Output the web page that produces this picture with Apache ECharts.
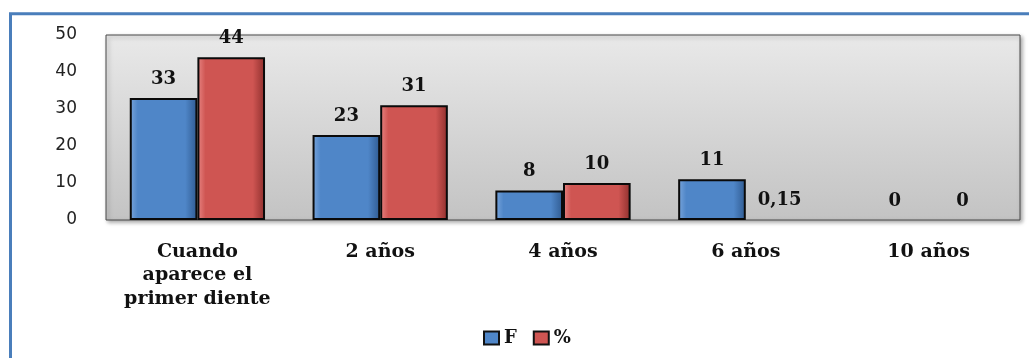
<!DOCTYPE html>
<html>
<head>
<meta charset="utf-8">
<script src="https://cdn.jsdelivr.net/npm/echarts@6/dist/echarts.min.js"></script>
<style>
    html, body { margin: 0; padding: 0; background: #fff; }
    #chart { width: 1029px; height: 358px; }
</style>
</head>
<body>
<div id="chart"></div>
<script>
var categories = ['Cuando\naparece el\nprimer diente', '2 años', '4 años', '6 años', '10 años'];
var valuesF = [33, 23, 8, 11, 0];
var valuesPct = [44, 31, 10, 0.15, 0];
var labelsPct = ['44', '31', '10', '0,15', '0'];
var yTicks = [0, 10, 20, 30, 40, 50];

function bevel(light, base, dark) {
    return new echarts.graphic.LinearGradient(0, 0, 1, 0, [
        { offset: 0, color: light },
        { offset: 0.12, color: base },
        { offset: 0.82, color: base },
        { offset: 1, color: dark }
    ]);
}

// bars too small to see get no outline, like the original
function toData(values) {
    return values.map(function (v) {
        return v < 1 ? { value: v, itemStyle: { borderWidth: 0, color: 'rgba(0,0,0,0)' } } : v;
    });
}

var myChart = echarts.init(document.getElementById('chart'));
var valueLabel = {
    show: true,
    position: 'top',
    distance: 10,
    fontFamily: 'DejaVu Serif',
    fontWeight: 'bold',
    fontSize: 18,
    color: '#111'
};

var option = {
    animation: false,
    graphic: [{
        type: 'rect',
        shape: { x: 10.5, y: 13.8, width: 1100, height: 500 },
        style: { fill: 'none', stroke: '#4a7ebb', lineWidth: 3 },
        silent: true
    }],
    grid: {
        left: 106,
        right: 9,
        top: 35,
        bottom: 138,
        show: true,
        backgroundColor: new echarts.graphic.LinearGradient(0, 0, 0, 1, [
            { offset: 0, color: '#e9e9e9' },
            { offset: 1, color: '#c3c3c3' }
        ]),
        borderColor: '#4a4a4a',
        borderWidth: 1,
        shadowColor: 'rgba(0,0,0,0.35)',
        shadowBlur: 4,
        shadowOffsetX: 2,
        shadowOffsetY: 2
    },
    legend: {
        left: 478,
        top: 324,
        icon: 'rect',
        itemWidth: 15,
        itemHeight: 13,
        itemGap: 16,
        textStyle: { fontFamily: 'DejaVu Serif', fontWeight: 'bold', fontSize: 18, color: '#111' },
        data: [
            { name: 'F', itemStyle: { color: '#4f86c8', borderColor: '#111', borderWidth: 2 } },
            { name: '%', itemStyle: { color: '#cf5552', borderColor: '#111', borderWidth: 2 } }
        ]
    },
    xAxis: {
        type: 'category',
        data: categories,
        axisLine: { show: false },
        axisTick: { show: false },
        axisLabel: {
            margin: 20,
            fontFamily: 'DejaVu Serif',
            fontWeight: 'bold',
            fontSize: 19,
            lineHeight: 23.5,
            color: '#111',
            interval: 0
        }
    },
    yAxis: {
        type: 'value',
        min: yTicks[0],
        max: yTicks[yTicks.length - 1],
        interval: 10,
        splitLine: { show: false },
        axisLine: { show: false },
        axisTick: { show: false },
        axisLabel: {
            margin: 29,
            fontFamily: 'DejaVu Sans',
            fontSize: 17,
            color: '#222'
        }
    },
    series: [
        {
            name: 'F',
            type: 'bar',
            barGap: '0%',
            barCategoryGap: '26%',
            data: toData(valuesF),
            itemStyle: {
                color: bevel('#7aa6dc', '#4f86c8', '#2f5a90'),
                borderColor: '#0a0a0a',
                borderWidth: 2
            },
            label: valueLabel
        },
        {
            name: '%',
            type: 'bar',
            data: toData(valuesPct),
            itemStyle: {
                color: bevel('#e88583', '#cf5552', '#8e2f2d'),
                borderColor: '#0a0a0a',
                borderWidth: 2
            },
            label: Object.assign({}, valueLabel, {
                formatter: function (p) { return labelsPct[p.dataIndex]; }
            })
        }
    ]
};
myChart.setOption(option);
</script>
</body>
</html>
